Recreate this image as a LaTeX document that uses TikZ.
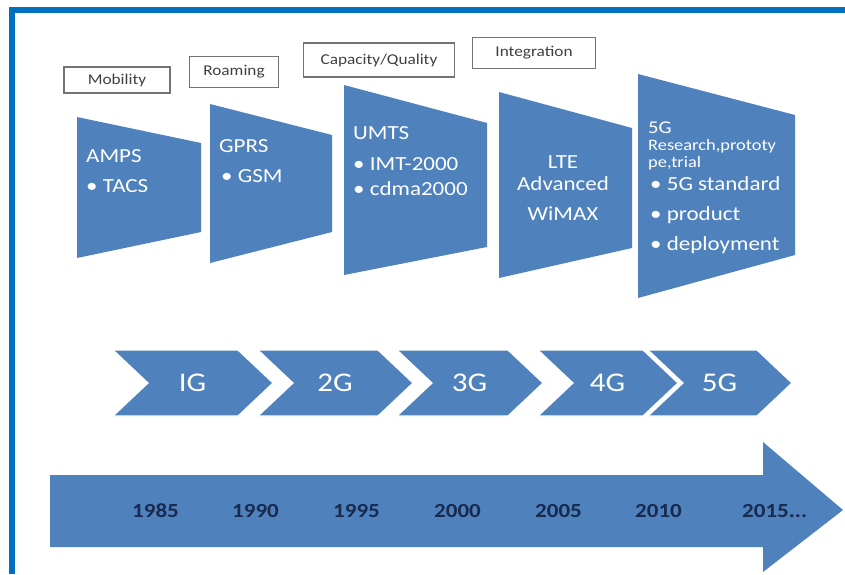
\documentclass[tikz,border=0pt]{standalone}
\usepackage{fontspec}
\setmainfont{Carlito}[FakeStretch=1.15]
\usetikzlibrary{positioning}
\definecolor{ppblue}{RGB}{79,129,189}
\definecolor{frameblue}{RGB}{0,112,192}
\definecolor{yearnavy}{RGB}{24,42,78}
\definecolor{tagGray}{RGB}{64,64,64}

\begin{document}
\begin{tikzpicture}
  [x=1pt,y=-1pt,
   stageN/.style={fill=ppblue},
   chevN/.style={fill=ppblue,draw=white,line width=1.2pt},
   tagN/.style={draw=black!55,line width=1.3pt,fill=white,inner sep=0pt,
                text=tagGray,font=\fontsize{15}{18}\selectfont},
   techN/.style={text=white,inner sep=0pt,anchor=base west,
                 font=\fontsize{20}{24}\selectfont},
   smallN/.style={techN,font=\fontsize{16}{18}\selectfont},
   genN/.style={text=white,inner sep=0pt,font=\fontsize{27}{30}\selectfont},
   yearN/.style={text=yearnavy,inner sep=0pt,anchor=base west,
                 font=\fontsize{20}{24}\selectfont\bfseries},
  ]

 \useasboundingbox (0,0) rectangle (845,574);

 % frame
 \fill[frameblue] (9,7) rectangle (845,13);
 \fill[frameblue] (9,7) rectangle (15,574);

 % labels above the stages
 \node[tagN,minimum width=106pt,minimum height=26pt] (mob)  at (117,80) {Mobility};
 \node[tagN,minimum width=89pt,minimum height=31pt]  (roam) at (234,72) {Roaming};
 \node[tagN,minimum width=151pt,minimum height=34pt] (cap)  at (379,60) {Capacity/Quality};
 \node[tagN,minimum width=123pt,minimum height=31pt] (intg) at (534,53) {Integration};

 % stages
 \fill[stageN] (77,117) -- (201,143) -- (201,232) -- (77,258) -- cycle;
 \fill[stageN] (210,104) -- (332,135) -- (332,232) -- (210,263) -- cycle;
 \fill[stageN] (344,85) -- (487,123) -- (487,247) -- (344,275) -- cycle;
 \fill[stageN] (499,92) -- (632,128) -- (632,248) -- (499,278) -- cycle;
 \fill[stageN] (638,74) -- (795,115) -- (795,255) -- (638,298) -- cycle;

 \node[techN] (amps) at (86,162) {AMPS};
 \node[techN] (tacs) at (86,192) {• TACS};
 \node[techN] (gprs) at (219,152) {GPRS};
 \node[techN] (gsm)  at (221,182) {• GSM};
 \node[techN] (umts) at (353,139) {UMTS};
 \node[techN] (imt)  at (353,170) {• IMT-2000};
 \node[techN] (cdma) at (353,195) {• cdma2000};
 \node[techN,anchor=base] (lte)   at (563,168) {LTE};
 \node[techN,anchor=base] (adv)   at (563,190) {Advanced};
 \node[techN,anchor=base] (wimax) at (563,220) {WiMAX};
 \node[techN,font=\fontsize{18}{20}\selectfont] (fiveg) at (648,133) {5G};
 \node[smallN] (resA) at (648,150) {Research,prototy};
 \node[smallN] (resB) at (648,167) {pe,trial};
 \node[techN] (std)  at (650,190) {• 5G standard};
 \node[techN] (prod) at (650,220) {• product};
 \node[techN] (depl) at (650,250) {• deployment};

 % generations
 \foreach \l/\r/\lab/\nm in {113/238/IG/g1,258/378/2G/g2,397/508/3G/g3,538/643/4G/g4,648/757/5G/g5}{
   \filldraw[chevN] (\l,350) -- (\r,350) -- (\r+35,383) -- (\r,416)
                    -- (\l,416) -- (\l+35,383) -- cycle;
   \node[genN] (\nm) at ({(\l+\r)/2+17},383) {\lab};
 }

 % time line
 \fill[stageN] (50,475) -- (763,475) -- (763,442) -- (843,510)
               -- (763,572) -- (763,547) -- (50,547) -- cycle;
 \foreach \x/\yr/\nm in {132/1985/ya,232/1990/yb,333/1995/yc,434/2000/yd,535/2005/ye,635/2010/yf}
   \node[yearN] (\nm) at (\x,517) {\yr};
 \node[yearN] (yg) at (742,517) {2015...};

\end{tikzpicture}
\end{document}
